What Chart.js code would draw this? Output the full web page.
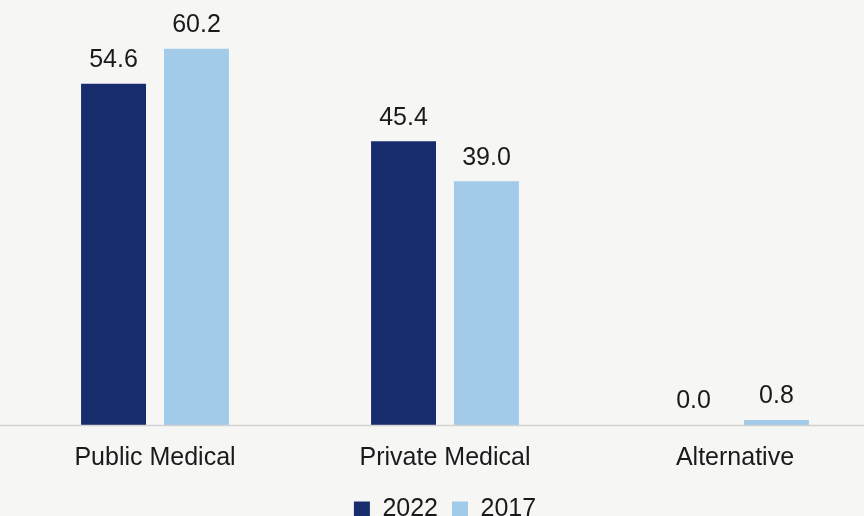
<!DOCTYPE html>
<html>
<head>
<meta charset="utf-8">
<script src="https://cdn.jsdelivr.net/npm/chart.js@4.4.1/dist/chart.umd.min.js"></script>
<style>
  html, body { margin: 0; padding: 0; background: #f6f6f5; overflow: hidden; }
  #wrap { width: 880px; height: 532px; }
</style>
</head>
<body>
<div id="wrap"><canvas id="barChart"></canvas></div>
<script>
var categories = ['Public Medical', 'Private Medical', 'Alternative'];
var values2022 = [54.6, 45.4, 0.0];
var values2017 = [60.2, 39.0, 0.8];

// draws the value above every bar and the full-width base line
var valueLabels = {
    id: 'valueLabels',
    afterDatasetsDraw: function (chart) {
        var ctx = chart.ctx;
        var area = chart.chartArea;
        ctx.save();
        ctx.strokeStyle = '#d2d2d2';
        ctx.lineWidth = 1.5;
        ctx.beginPath();
        ctx.moveTo(0, area.bottom + 0.5);
        ctx.lineTo(chart.width, area.bottom + 0.5);
        ctx.stroke();
        ctx.fillStyle = '#1a1a1a';
        ctx.font = '25px "Liberation Sans", Arial, sans-serif';
        ctx.textAlign = 'center';
        ctx.textBaseline = 'bottom';
        chart.data.datasets.forEach(function (ds, i) {
            chart.getDatasetMeta(i).data.forEach(function (bar, j) {
                ctx.fillText(ds.data[j].toFixed(1), bar.x, bar.y - 11);
            });
        });
        ctx.restore();
    }
};

var ctx = document.getElementById('barChart').getContext('2d');
var chart = new Chart(ctx, {
    type: 'bar',
    data: {
        labels: categories,
        datasets: [{
            label: '2022',
            data: values2022,
            backgroundColor: '#172c6c',
            categoryPercentage: 0.572,
            barPercentage: 0.783
        },
        {
            label: '2017',
            data: values2017,
            backgroundColor: '#a2cbea',
            categoryPercentage: 0.572,
            barPercentage: 0.783
        }]
    },
    options: {
        responsive: true,
        maintainAspectRatio: false,
        animation: false,
        layout: { padding: { left: 10, top: 0 } },
        scales: {
            x: {
                grid: { display: false },
                border: { display: false },
                ticks: {
                    color: '#1a1a1a',
                    padding: 10,
                    font: { family: '"Liberation Sans", Arial, sans-serif', size: 25 }
                }
            },
            y: {
                display: false,
                min: 0,
                max: 68
            }
        },
        plugins: {
            tooltip: { enabled: false },
            legend: {
                position: 'bottom',
                labels: {
                    color: '#1a1a1a',
                    boxWidth: 16,
                    boxHeight: 16,
                    padding: 14,
                    font: { family: '"Liberation Sans", Arial, sans-serif', size: 25 }
                }
            }
        }
    },
    plugins: [valueLabels]
});
</script>
</body>
</html>
